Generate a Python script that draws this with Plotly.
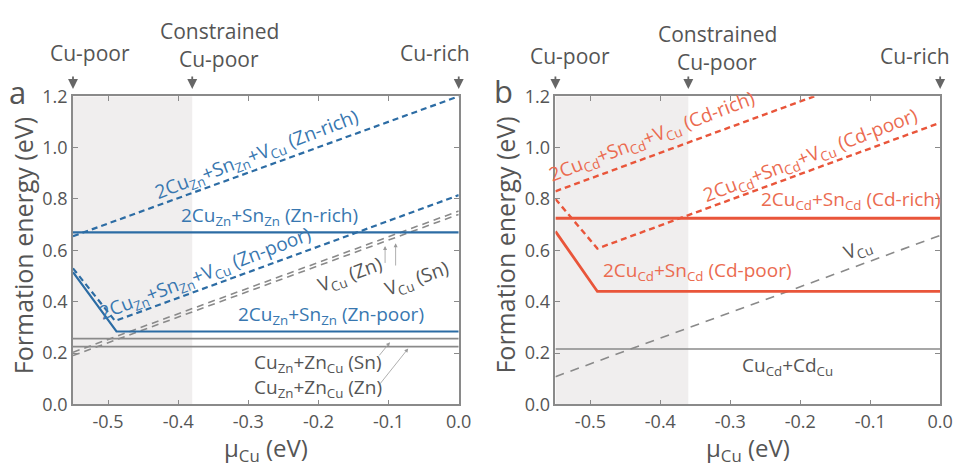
import plotly.graph_objects as go

# ---------------- data ----------------
# panel a (Cu2ZnSnS4-type, blue)
a_znrich_v_x = [-0.55, 0.0]
a_znrich_v_y = [0.655, 1.2]
a_znrich_x = [-0.55, 0.0]
a_znrich_y = [0.67, 0.67]
a_znpoor_v_x = [-0.55, -0.49, 0.0]
a_znpoor_v_y = [0.53, 0.325, 0.815]
a_znpoor_x = [-0.55, -0.488, 0.0]
a_znpoor_y = [0.515, 0.284, 0.284]
a_vcu_zn_x = [-0.55, 0.0]
a_vcu_zn_y = [0.19, 0.74]
a_vcu_sn_x = [-0.55, 0.0]
a_vcu_sn_y = [0.203, 0.753]
a_anti_sn_x = [-0.55, 0.0]
a_anti_sn_y = [0.256, 0.256]
a_anti_zn_x = [-0.55, 0.0]
a_anti_zn_y = [0.225, 0.225]

# panel b (Cd analogue, red)
b_cdrich_v_x = [-0.55, -0.18]
b_cdrich_v_y = [0.83, 1.2]
b_cdpoor_v_x = [-0.55, -0.49, 0.0]
b_cdpoor_v_y = [0.80, 0.607, 1.097]
b_cdrich_x = [-0.55, 0.0]
b_cdrich_y = [0.725, 0.725]
b_cdpoor_x = [-0.55, -0.49, 0.0]
b_cdpoor_y = [0.674, 0.44, 0.44]
b_vcu_x = [-0.55, 0.0]
b_vcu_y = [0.108, 0.658]
b_anti_x = [-0.55, 0.0]
b_anti_y = [0.216, 0.216]

x_tickvals = [-0.5, -0.4, -0.3, -0.2, -0.1, 0.0]
x_ticktext = ["-0.5", "-0.4", "-0.3", "-0.2", "-0.1", "0.0"]
y_tickvals = [0.0, 0.2, 0.4, 0.6, 0.8, 1.0, 1.2]
y_ticktext = ["0.0", "0.2", "0.4", "0.6", "0.8", "1.0", "1.2"]

shade_a = [-0.55, -0.38]
shade_b = [-0.55, -0.36]
marks_a = [-0.55, -0.38, 0.0]
marks_b = [-0.55, -0.36, 0.0]

# ---------------- styling ----------------
BLUE = "#2c6ca4"
BLUE_T = "#3877b0"
RED = "#e9553a"
RED_T = "#eb6b50"
GRAY = "#8a8a8a"
GRAY_T = "#555555"
FONT = "Open Sans"
LBL = 19

fig = go.Figure()

def line(x, y, color, width, dash="solid", xa="x", ya="y"):
    fig.add_trace(go.Scatter(x=x, y=y, mode="lines", xaxis=xa, yaxis=ya,
                             line=dict(color=color, width=width, dash=dash),
                             showlegend=False, hoverinfo="skip"))

# panel a
line(a_anti_sn_x, a_anti_sn_y, GRAY, 1.6)
line(a_anti_zn_x, a_anti_zn_y, GRAY, 1.6)
line(a_vcu_zn_x, a_vcu_zn_y, GRAY, 1.6, "7px,5px")
line(a_vcu_sn_x, a_vcu_sn_y, GRAY, 1.6, "7px,5px")
line(a_znpoor_x, a_znpoor_y, BLUE, 2.2)
line(a_znrich_x, a_znrich_y, BLUE, 2.2)
line(a_znpoor_v_x, a_znpoor_v_y, BLUE, 2.2, "6px,4px")
line(a_znrich_v_x, a_znrich_v_y, BLUE, 2.2, "6px,4px")

# panel b
line(b_anti_x, b_anti_y, GRAY, 1.6, xa="x2", ya="y2")
line(b_vcu_x, b_vcu_y, GRAY, 1.6, "9px,7px", xa="x2", ya="y2")
line(b_cdpoor_x, b_cdpoor_y, RED, 2.8, xa="x2", ya="y2")
line(b_cdrich_x, b_cdrich_y, RED, 2.8, xa="x2", ya="y2")
line(b_cdpoor_v_x, b_cdpoor_v_y, RED, 2.4, "6px,4px", xa="x2", ya="y2")
line(b_cdrich_v_x, b_cdrich_v_y, RED, 2.4, "6px,4px", xa="x2", ya="y2")

axis_common = dict(showgrid=False, zeroline=False, showline=True, linecolor=GRAY,
                   linewidth=1.5, mirror="ticks", ticks="inside", ticklen=5,
                   tickcolor=GRAY, tickwidth=1.2,
                   tickfont=dict(family=FONT, size=18, color=GRAY_T))

xa_dom = [74 / 965, 465 / 965]
xb_dom = [563 / 965, 953 / 965]
y_dom = [1 - 412.5 / 469, 1 - 87.8 / 469]

fig.update_layout(
    width=965, height=469,
    margin=dict(l=0, r=0, t=0, b=0),
    paper_bgcolor="white", plot_bgcolor="rgba(0,0,0,0)",
    xaxis=dict(domain=xa_dom, range=[-0.55, 0.0], tickvals=x_tickvals,
               ticktext=x_ticktext, anchor="y", **axis_common),
    yaxis=dict(domain=y_dom, range=[0, 1.2], tickvals=y_tickvals,
               ticktext=y_ticktext, anchor="x", **axis_common),
    xaxis2=dict(domain=xb_dom, range=[-0.55, 0.0], tickvals=x_tickvals,
                ticktext=x_ticktext, anchor="y2", **axis_common),
    yaxis2=dict(domain=y_dom, range=[0, 1.2], tickvals=y_tickvals,
                ticktext=y_ticktext, anchor="x2", **axis_common),
)

# shaded Cu-poor regions
fig.add_shape(type="rect", xref="x", yref="y", x0=shade_a[0], x1=shade_a[1],
              y0=0, y1=1.2, fillcolor="#f0eeee", line=dict(width=0), layer="below")
fig.add_shape(type="rect", xref="x2", yref="y2", x0=shade_b[0], x1=shade_b[1],
              y0=0, y1=1.2, fillcolor="#f0eeee", line=dict(width=0), layer="below")

ann = []

def txt(x, y, text, color, size=LBL, angle=0, xref="x", yref="y", **kw):
    ann.append(dict(x=x, y=y, xref=xref, yref=yref, text=text, showarrow=False,
                    textangle=angle, font=dict(family=FONT, size=size, color=color),
                    xanchor="center", yanchor="middle", **kw))

# panel a labels
txt(-0.288, 0.97, "2Cu<sub>Zn</sub>+Sn<sub>Zn</sub>+V<sub>Cu</sub> (Zn-rich)", BLUE_T, angle=-21)
txt(-0.27, 0.735, "2Cu<sub>Zn</sub>+Sn<sub>Zn</sub> (Zn-rich)", BLUE_T)
txt(-0.361, 0.506, "2Cu<sub>Zn</sub>+Sn<sub>Zn</sub>+V<sub>Cu</sub> (Zn-poor)", BLUE_T, angle=-21)
txt(-0.182, 0.347, "2Cu<sub>Zn</sub>+Sn<sub>Zn</sub> (Zn-poor)", BLUE_T)
txt(-0.154, 0.503, "V<sub>Cu</sub> (Zn)", GRAY_T, angle=-20)
txt(-0.059, 0.488, "V<sub>Cu</sub> (Sn)", GRAY_T, angle=-20)
txt(-0.2, 0.162, "Cu<sub>Zn</sub>+Zn<sub>Cu</sub> (Sn)", GRAY_T)
txt(-0.2, 0.062, "Cu<sub>Zn</sub>+Zn<sub>Cu</sub> (Zn)", GRAY_T)

# panel b labels
txt(-0.412, 1.04, "2Cu<sub>Cd</sub>+Sn<sub>Cd</sub>+V<sub>Cu</sub> (Cd-rich)", RED_T, angle=-21, xref="x2", yref="y2")
txt(-0.186, 0.966, "2Cu<sub>Cd</sub>+Sn<sub>Cd</sub>+V<sub>Cu</sub> (Cd-poor)", RED_T, angle=-21, xref="x2", yref="y2")
txt(-0.127, 0.796, "2Cu<sub>Cd</sub>+Sn<sub>Cd</sub> (Cd-rich)", RED_T, xref="x2", yref="y2")
txt(-0.347, 0.519, "2Cu<sub>Cd</sub>+Sn<sub>Cd</sub> (Cd-poor)", RED_T, xref="x2", yref="y2")
txt(-0.117, 0.604, "V<sub>Cu</sub>", GRAY_T, angle=-21, xref="x2", yref="y2")
txt(-0.218, 0.149, "Cu<sub>Cd</sub>+Cd<sub>Cu</sub>", GRAY_T, xref="x2", yref="y2")

# thin pointer arrows (panel a)
def pointer(x, y, ax, ay):
    ann.append(dict(x=x, y=y, xref="x", yref="y", ax=ax, ay=ay, axref="x", ayref="y",
                    showarrow=True, arrowhead=2, arrowsize=1, arrowwidth=0.8,
                    arrowcolor="#9a9a9a", text=""))

pointer(-0.105, 0.617, -0.105, 0.545)
pointer(-0.09, 0.628, -0.09, 0.535)
pointer(-0.098, 0.242, -0.115, 0.185)
pointer(-0.072, 0.218, -0.114, 0.074)

# top labels and arrows
def toparrow(xv, xref):
    ann.append(dict(x=xv, y=1 - 80 / 469, xref=xref, yref="paper", ax=0, ay=-14,
                    showarrow=True, arrowhead=2, arrowsize=1.1, arrowwidth=1.8,
                    arrowcolor="#666666", text=""))

for xv in marks_a:
    toparrow(xv, "x")
for xv in marks_b:
    toparrow(xv, "x2")

def toplabel(xpx, ypx, text, size=21):
    ann.append(dict(x=xpx / 965, y=1 - ypx / 469, xref="paper", yref="paper",
                    text=text, showarrow=False,
                    font=dict(family=FONT, size=size, color=GRAY_T),
                    xanchor="center", yanchor="middle"))

toplabel(91, 42, "Cu-poor")
toplabel(222, 19, "Constrained")
toplabel(222, 48, "Cu-poor")
toplabel(441, 42, "Cu-rich")
toplabel(578, 45, "Cu-poor")
toplabel(727, 22, "Constrained")
toplabel(727, 52, "Cu-poor")
toplabel(928, 45, "Cu-rich")

# panel letters
toplabel(18, 83, "a", size=31)
toplabel(510, 82, "b", size=31)

# axis titles
for xc in [(74 + 465) / 2, (563 + 953) / 2]:
    ann.append(dict(x=xc / 965, y=1 - 459 / 469, xref="paper", yref="paper",
                    text="\u03bc<sub>Cu</sub> (eV)", showarrow=False,
                    font=dict(family=FONT, size=24, color=GRAY_T),
                    xanchor="center", yanchor="middle"))
for xc in [24, 512]:
    ann.append(dict(x=xc / 965, y=1 - 245 / 469, xref="paper", yref="paper",
                    text="Formation energy (eV)", showarrow=False, textangle=-90,
                    font=dict(family=FONT, size=25, color=GRAY_T),
                    xanchor="center", yanchor="middle"))

fig.update_layout(annotations=ann)
fig.write_html("out.html")
